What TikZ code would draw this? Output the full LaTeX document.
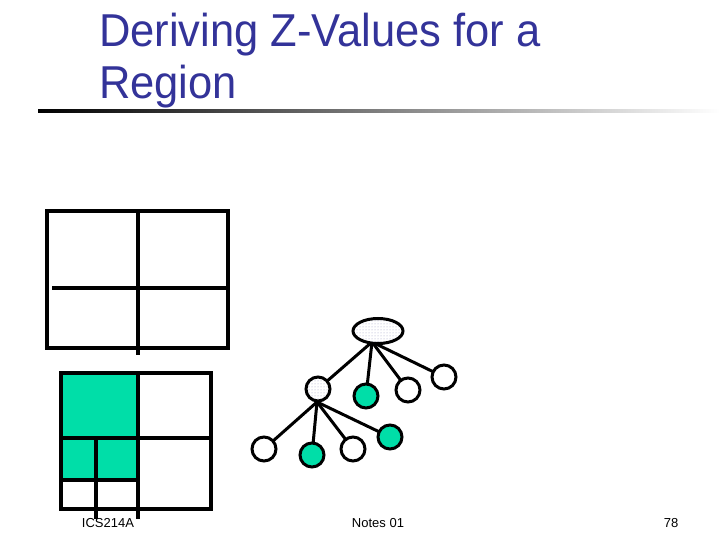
\documentclass[tikz,border=0pt]{standalone}
\usepackage{fontspec}
\setmainfont{Liberation Sans}
\usetikzlibrary{patterns,shapes.geometric}
\definecolor{titleblue}{RGB}{51,51,153}
\definecolor{zgreen}{RGB}{0,222,168}
\begin{document}
\begin{tikzpicture}[x=1pt,y=-1pt,
  gridline/.style={line width=3.5pt,line cap=rect},
  treeline/.style={line width=3pt},
  leaf/.style={circle,draw,line width=3pt,minimum size=24pt,inner sep=0pt,fill=white},
  gleaf/.style={leaf,fill=zgreen},
  dleaf/.style={leaf,fill=none,preaction={fill=white},pattern=dots,pattern color=blue!25!gray!60},
  titletext/.style={anchor=base west,text=titleblue,font=\fontsize{43.5}{50}\selectfont,inner sep=0pt},
  foot/.style={font=\fontsize{13}{13}\selectfont,anchor=base}]
\useasboundingbox (0,0) rectangle (720,540);
% title
\node[titletext,yscale=1.06] (title1) at (99,46.5) {Deriving Z-Values for a};
\node[titletext,yscale=1.06] (title2) at (99,98.5) {Region};
% rule with gradient
\shade[left color=black,right color=white] (38,109.5) rectangle (720,112.5);
% top grid
\draw[gridline] (47,211) rectangle (228,348);
\draw[gridline] (138,211) -- (138,353);
\draw[gridline] (54,288) -- (228,288);
% bottom grid
\fill[zgreen] (61,373) rectangle (138,480);
\draw[gridline] (61,373) rectangle (211,509);
\draw[gridline] (138,373) -- (138,517);
\draw[gridline] (61,438) -- (211,438);
\draw[gridline] (61,480) -- (138,480);
\draw[gridline] (96,438) -- (96,517);
% tree
\coordinate (rb) at (372,342);
\coordinate (cb) at (317,402);
\draw[treeline] (rb) -- (318,389);
\draw[treeline] (rb) -- (366,396);
\draw[treeline] (rb) -- (408,390);
\draw[treeline] (rb) -- (444,377);
\draw[treeline] (cb) -- (264,449);
\draw[treeline] (cb) -- (312,455);
\draw[treeline] (cb) -- (353,449);
\draw[treeline] (cb) -- (390,437);
\node[ellipse,draw,line width=3pt,minimum width=50pt,minimum height=25pt,inner sep=0pt,preaction={fill=white},pattern=dots,pattern color=blue!25!gray!60] (root) at (378,331) {};
\node[dleaf] (c1) at (318,389) {};
\node[gleaf] (c2) at (366,396) {};
\node[leaf] (c3) at (408,390) {};
\node[leaf] (c4) at (444,377) {};
\node[leaf] (d1) at (264,449) {};
\node[gleaf] (d2) at (312,455) {};
\node[leaf] (d3) at (353,449) {};
\node[gleaf] (d4) at (390,437) {};
% footer
\node[foot] (f1) at (108,527) {ICS214A};
\node[foot] (f2) at (378,527) {Notes 01};
\node[foot] (f3) at (671,527) {78};
\end{tikzpicture}
\end{document}
